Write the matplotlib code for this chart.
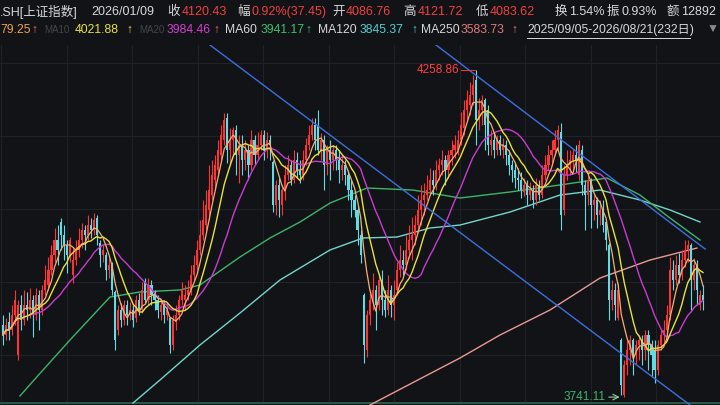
import numpy as np
import pandas as pd
import matplotlib
matplotlib.use("Agg")
import matplotlib.pyplot as plt

plt.rcParams['font.family'] = ['Liberation Sans', 'Noto Sans CJK SC', 'DejaVu Sans']

# daily candles, 2025/09/05 - 2026/08/21 (232 days)
opens = [
    3855.2, 3839.4, 3860.0, 3847.3, 3871.1, 3807.8, 3886.9, 3863.2, 3886.9, 3879.0,
    3894.8, 3871.1, 3902.7, 3879.0, 3910.7, 3918.6, 3942.3, 3966.1, 3989.8, 4018.3,
    3997.7, 3981.9, 3966.1, 3934.4, 3958.1, 3974.0, 3989.8, 4005.6, 3997.7, 4013.5,
    4005.6, 4024.6, 3985.0, 3966.1, 3966.1, 3942.3, 3950.2, 3907.5, 3847.3, 3879.0,
    3863.2, 3886.9, 3871.1, 3879.0, 3866.3, 3894.8, 3879.0, 3923.3, 3894.8, 3918.6,
    3902.7, 3894.8, 3875.8, 3886.9, 3871.1, 3866.3, 3823.6, 3860.0, 3871.1, 3894.8,
    3894.8, 3902.7, 3910.7, 3934.4, 3950.2, 3974.0, 3997.7, 4013.5, 4037.3, 4061.0,
    4084.8, 4100.6, 4124.3, 4148.1, 4182.9, 4132.3, 4148.1, 4163.9, 4124.3, 4140.2,
    4116.4, 4132.3, 4108.5, 4148.1, 4124.3, 4140.2, 4156.0, 4132.3, 4148.1, 4113.3,
    4045.2, 4076.9, 4045.2, 4068.9, 4092.7, 4108.5, 4084.8, 4116.4, 4100.6, 4092.7,
    4116.4, 4140.2, 4156.0, 4171.8, 4171.8, 4132.3, 4148.1, 4108.5, 4132.3, 4116.4,
    4132.3, 4116.4, 4100.6, 4108.5, 4092.7, 4068.9, 4053.1, 4037.3, 3997.7, 3902.7,
    3815.7, 3871.1, 3894.8, 3910.7, 3886.9, 3926.5, 3894.8, 3879.0, 3910.7, 3886.9,
    3910.7, 3942.3, 3958.1, 3950.2, 3974.0, 3989.8, 3997.7, 4013.5, 4037.3, 4053.1,
    4061.0, 4068.9, 4084.8, 4076.9, 4100.6, 4108.5, 4116.4, 4100.6, 4124.3, 4132.3,
    4132.3, 4148.1, 4167.1, 4195.6, 4203.5, 4219.3, 4243.1, 4179.7, 4195.6, 4211.4,
    4195.6, 4140.2, 4148.1, 4132.3, 4148.1, 4132.3, 4140.2, 4124.3, 4108.5, 4100.6,
    4087.9, 4084.8, 4065.8, 4076.9, 4061.0, 4068.9, 4053.1, 4076.9, 4061.0, 4092.7,
    4108.5, 4124.3, 4132.3, 4148.1, 4160.7, 4037.3, 4092.7, 4108.5, 4116.4, 4124.3,
    4092.7, 4132.3, 4076.9, 4061.0, 4084.8, 4045.2, 4053.1, 4029.4, 4037.3, 4018.3,
    3981.9, 3894.8, 3910.7, 3866.3, 3831.5, 3744.4, 3791.9, 3815.7, 3831.5, 3807.8,
    3823.6, 3831.5, 3815.7, 3839.4, 3823.6, 3815.7, 3784.0, 3823.6, 3839.4, 3847.3,
    3871.1, 3942.3, 3926.5, 3950.2, 3934.4, 3958.1, 3974.0, 3981.9, 3926.5, 3950.2,
    3886.9, 3902.7,
]
highs = [
    3871.1, 3866.3, 3875.8, 3886.9, 3910.7, 3894.8, 3902.7, 3910.7, 3907.5, 3913.8,
    3902.7, 3913.8, 3910.7, 3918.6, 3950.2, 3962.9, 3981.9, 4008.8, 4013.5, 4024.6,
    4013.5, 3989.8, 3994.5, 3978.7, 3989.8, 4008.8, 4016.7, 4013.5, 4029.4, 4024.6,
    4032.5, 4029.4, 3989.8, 3981.9, 3970.8, 3961.3, 3955.0, 3910.7, 3886.9, 3890.0,
    3894.8, 3894.8, 3891.6, 3886.9, 3902.7, 3905.9, 3923.3, 3929.6, 3929.6, 3926.5,
    3910.7, 3902.7, 3898.0, 3894.8, 3890.0, 3867.9, 3871.1, 3886.9, 3902.7, 3923.3,
    3918.6, 3926.5, 3950.2, 3966.1, 3989.8, 4021.5, 4053.1, 4068.9, 4108.5, 4116.4,
    4124.3, 4148.1, 4171.8, 4190.8, 4190.8, 4167.1, 4168.7, 4171.8, 4156.0, 4156.0,
    4148.1, 4140.2, 4163.9, 4156.0, 4160.7, 4163.9, 4163.9, 4160.7, 4156.0, 4116.4,
    4084.8, 4087.9, 4076.9, 4108.5, 4124.3, 4116.4, 4132.3, 4129.1, 4116.4, 4132.3,
    4151.2, 4171.8, 4182.9, 4182.9, 4195.6, 4159.1, 4156.0, 4140.2, 4148.1, 4140.2,
    4140.2, 4132.3, 4124.3, 4116.4, 4100.6, 4084.8, 4061.0, 4045.2, 4005.6, 3905.9,
    3879.0, 3910.7, 3937.5, 3918.6, 3934.4, 3942.3, 3910.7, 3934.4, 3918.6, 3926.5,
    3955.0, 3981.9, 3974.0, 3997.7, 4013.5, 4026.2, 4029.4, 4061.0, 4076.9, 4080.0,
    4092.7, 4103.8, 4100.6, 4116.4, 4119.6, 4132.3, 4124.3, 4132.3, 4148.1, 4156.0,
    4163.9, 4192.4, 4211.4, 4227.2, 4239.9, 4251.0, 4258.86, 4214.6, 4219.3, 4214.6,
    4203.5, 4163.9, 4159.1, 4156.0, 4156.0, 4151.2, 4148.1, 4132.3, 4116.4, 4113.3,
    4103.8, 4097.4, 4087.9, 4084.8, 4081.6, 4076.9, 4087.9, 4084.8, 4108.5, 4124.3,
    4140.2, 4148.1, 4163.9, 4171.8, 4175.0, 4108.5, 4132.3, 4132.3, 4135.4, 4140.2,
    4148.1, 4140.2, 4084.8, 4092.7, 4087.9, 4061.0, 4057.9, 4053.1, 4053.1, 4021.5,
    3985.0, 3926.5, 3921.7, 3921.7, 3834.6, 3799.8, 3831.5, 3839.4, 3834.6, 3831.5,
    3839.4, 3839.4, 3847.3, 3847.3, 3831.5, 3831.5, 3831.5, 3847.3, 3863.2, 3886.9,
    3962.9, 3958.1, 3966.1, 3969.2, 3974.0, 3989.8, 3989.8, 3985.0, 3961.3, 3958.1,
    3910.7, 3918.6,
]
lows = [
    3823.6, 3831.5, 3831.5, 3839.4, 3855.2, 3799.8, 3847.3, 3855.2, 3863.2, 3866.3,
    3836.2, 3863.2, 3847.3, 3871.1, 3902.7, 3910.7, 3934.4, 3955.0, 3950.2, 3974.0,
    3958.1, 3937.5, 3955.0, 3921.7, 3950.2, 3962.9, 3977.1, 3974.0, 3989.8, 3992.9,
    3997.7, 3981.9, 3947.0, 3955.0, 3926.5, 3929.6, 3902.7, 3815.7, 3839.4, 3852.1,
    3855.2, 3855.2, 3863.2, 3852.1, 3860.0, 3871.1, 3874.2, 3890.0, 3886.9, 3886.9,
    3879.0, 3866.3, 3863.2, 3858.4, 3863.2, 3810.9, 3815.7, 3847.3, 3863.2, 3886.9,
    3879.0, 3894.8, 3902.7, 3926.5, 3942.3, 3966.1, 3989.8, 4005.6, 4021.5, 4053.1,
    4068.9, 4092.7, 4116.4, 4140.2, 4111.7, 4108.5, 4124.3, 4092.7, 4080.0, 4092.7,
    4100.6, 4084.8, 4100.6, 4108.5, 4116.4, 4132.3, 4116.4, 4119.6, 4116.4, 4034.1,
    4029.4, 4026.2, 4029.4, 4053.1, 4084.8, 4076.9, 4080.0, 4087.9, 4080.0, 4084.8,
    4108.5, 4132.3, 4148.1, 4132.3, 4124.3, 4116.4, 4068.9, 4092.7, 4084.8, 4100.6,
    4100.6, 4080.0, 4084.8, 4076.9, 4053.1, 4026.2, 4026.2, 3981.9, 3953.4, 3795.1,
    3804.6, 3855.2, 3879.0, 3847.3, 3879.0, 3871.1, 3867.9, 3871.1, 3867.9, 3863.2,
    3902.7, 3931.2, 3934.4, 3942.3, 3961.3, 3958.1, 3981.9, 4000.9, 4013.5, 4029.4,
    4053.1, 4061.0, 4061.0, 4068.9, 4084.8, 4092.7, 4076.9, 4087.9, 4108.5, 4119.6,
    4124.3, 4140.2, 4156.0, 4179.7, 4187.7, 4203.5, 4140.2, 4163.9, 4171.8, 4132.3,
    4124.3, 4124.3, 4119.6, 4124.3, 4124.3, 4119.6, 4108.5, 4092.7, 4081.6, 4072.1,
    4068.9, 4056.3, 4059.4, 4045.2, 4053.1, 4040.4, 4045.2, 4053.1, 4056.3, 4084.8,
    4100.6, 4108.5, 4124.3, 4132.3, 4005.6, 4029.4, 4084.8, 4092.7, 4100.6, 4097.4,
    4084.8, 4061.0, 4005.6, 4045.2, 4008.8, 4021.5, 4008.8, 4013.5, 4002.4, 3974.0,
    3863.2, 3879.0, 3863.2, 3863.2, 3744.4, 3741.11, 3776.1, 3791.9, 3776.1, 3791.9,
    3799.8, 3791.9, 3799.8, 3784.0, 3772.9, 3763.4, 3776.1, 3815.7, 3823.6, 3839.4,
    3863.2, 3910.7, 3918.6, 3921.7, 3926.5, 3947.0, 3955.0, 3879.0, 3910.7, 3886.9,
    3879.0, 3879.0,
]
closes = [
    3839.4, 3855.2, 3847.3, 3871.1, 3894.8, 3886.9, 3863.2, 3886.9, 3879.0, 3894.8,
    3871.1, 3902.7, 3879.0, 3910.7, 3926.5, 3942.3, 3966.1, 3989.8, 3974.0, 3997.7,
    3981.9, 3966.1, 3989.8, 3958.1, 3974.0, 3989.8, 4005.6, 3997.7, 4013.5, 4005.6,
    4021.5, 3997.7, 3966.1, 3974.0, 3942.3, 3950.2, 3910.7, 3831.5, 3879.0, 3863.2,
    3886.9, 3871.1, 3879.0, 3863.2, 3894.8, 3879.0, 3910.7, 3894.8, 3918.6, 3902.7,
    3894.8, 3879.0, 3886.9, 3871.1, 3879.0, 3823.6, 3863.2, 3871.1, 3894.8, 3910.7,
    3902.7, 3910.7, 3934.4, 3950.2, 3974.0, 3997.7, 4021.5, 4045.2, 4068.9, 4092.7,
    4108.5, 4132.3, 4156.0, 4179.7, 4132.3, 4148.1, 4163.9, 4124.3, 4140.2, 4116.4,
    4132.3, 4108.5, 4148.1, 4124.3, 4140.2, 4156.0, 4132.3, 4148.1, 4140.2, 4045.2,
    4076.9, 4053.1, 4068.9, 4092.7, 4108.5, 4084.8, 4116.4, 4100.6, 4092.7, 4116.4,
    4140.2, 4156.0, 4171.8, 4148.1, 4132.3, 4148.1, 4108.5, 4132.3, 4116.4, 4132.3,
    4116.4, 4100.6, 4108.5, 4092.7, 4068.9, 4053.1, 4037.3, 4005.6, 3966.1, 3823.6,
    3871.1, 3894.8, 3910.7, 3886.9, 3926.5, 3894.8, 3879.0, 3910.7, 3886.9, 3902.7,
    3942.3, 3958.1, 3950.2, 3974.0, 3989.8, 3997.7, 4013.5, 4037.3, 4053.1, 4061.0,
    4068.9, 4084.8, 4076.9, 4100.6, 4108.5, 4116.4, 4100.6, 4124.3, 4132.3, 4140.2,
    4148.1, 4171.8, 4195.6, 4211.4, 4219.3, 4235.1, 4179.7, 4195.6, 4211.4, 4171.8,
    4140.2, 4148.1, 4132.3, 4148.1, 4132.3, 4140.2, 4124.3, 4108.5, 4100.6, 4087.9,
    4084.8, 4068.9, 4076.9, 4061.0, 4068.9, 4053.1, 4076.9, 4061.0, 4092.7, 4108.5,
    4124.3, 4132.3, 4148.1, 4163.9, 4029.4, 4092.7, 4108.5, 4116.4, 4124.3, 4116.4,
    4140.2, 4076.9, 4061.0, 4084.8, 4045.2, 4053.1, 4029.4, 4037.3, 4013.5, 3989.8,
    3894.8, 3910.7, 3886.9, 3910.7, 3760.3, 3791.9, 3815.7, 3831.5, 3807.8, 3823.6,
    3831.5, 3815.7, 3839.4, 3823.6, 3807.8, 3784.0, 3823.6, 3839.4, 3847.3, 3871.1,
    3942.3, 3926.5, 3950.2, 3934.4, 3958.1, 3974.0, 3981.9, 3926.5, 3950.2, 3910.7,
    3902.7, 3894.8,
]

# long moving averages at a few days (day index, value)
ma60_days = [5.6, 13.2, 22.1, 35.3, 45.2, 58.4, 65.0, 78.2, 88.1, 98.0, 107.9,
             120.1, 135.3, 150.8, 167.3, 183.8, 199.3, 210.2, 220.1, 230.0]
ma60_vals = [3743.0, 3784.0, 3831.5, 3899.5, 3907.5, 3910.7, 3918.6, 3962.9, 3993.0,
             4018.3, 4048.3, 4072.1, 4068.9, 4056.3, 4065.8, 4076.9, 4087.9, 4061.0,
             4024.6, 3989.8]
ma120_days = [42.9, 51.8, 65.0, 78.2, 91.4, 107.9, 118.8, 130.0, 140.9, 150.8,
              167.3, 183.8, 197.0, 210.2, 220.1, 230.0]
ma120_vals = [3731.7, 3768.2, 3823.6, 3874.2, 3926.5, 3974.0, 3993.0, 3994.5, 4008.8,
              4013.5, 4034.1, 4061.0, 4068.9, 4053.1, 4037.3, 4018.3]
ma250_days = [121.1, 143.2, 150.8, 164.0, 180.5, 197.0, 213.5, 229.0]
ma250_vals = [3728.6, 3784.0, 3803.0, 3839.4, 3879.0, 3929.6, 3958.1, 3977.1]

# channel lines (day, price)
channel_a = [(68.3, 4298.5), (226.7, 3728.6)]
channel_b = [(142.9, 4298.5), (231.7, 3975.5)]

high_label = (156, 4258.86)
low_label = (205, 3741.11)

BG = '#121317'
RED = '#ff3333'
CYAN = '#5fdce6'

fig = plt.figure(figsize=(7.2, 4.05), dpi=100, facecolor=BG)
ax = fig.add_axes([0, 0, 1, 360 / 405])
ax.set_facecolor(BG)
ax.set_xlim(-0.99, 236.6)
ax.set_ylim(3728.6, 4298.5)
ax.axis('off')

# faint grid
for k in range(-1, 11):
    ax.axvline(21.1 + 21.6 * k, color='#202228', lw=0.8, zorder=0)
for p in [4270.0, 4154.4, 4038.9, 3923.3, 3807.7]:
    ax.axhline(p, color='#202228', lw=0.8, zorder=0)
ax.axhline(3731.0, color='#2c5a44', lw=1.4, zorder=1)

df = pd.DataFrame({'o': opens, 'h': highs, 'l': lows, 'c': closes})
idx = np.arange(len(df))
up = df.c >= df.o
cols = np.where(up, RED, CYAN)

ax.plot(ma250_days, ma250_vals, color='#e89a94', lw=1.0, zorder=2)
ax.plot(ma120_days, ma120_vals, color='#72d6cc', lw=1.0, zorder=2)
ax.plot(ma60_days, ma60_vals, color='#3bb56a', lw=1.0, zorder=2)

ax.vlines(idx, df.l, df.h, colors=cols, lw=0.8, zorder=3)
body = np.maximum((df.c - df.o).abs(), 1.5)
ax.bar(idx, body, bottom=np.minimum(df.o, df.c), width=0.7, color=cols,
       linewidth=0, zorder=4)

ma5 = df.c.rolling(5, min_periods=1).mean()
ma10 = df.c.rolling(10, min_periods=1).mean()
ma20 = df.c.rolling(20, min_periods=1).mean()
ax.plot(idx, ma20, color='#c83cd0', lw=1.0, zorder=5)
ax.plot(idx, ma10, color='#e8e23c', lw=1.0, zorder=5)
ax.plot(idx, ma5, color='#f4b070', lw=0.9, zorder=5)

for (x0, y0), (x1, y1) in [channel_a, channel_b]:
    ax.plot([x0, x1], [y0, y1], color='#3d6fe0', lw=1.0, zorder=6)

# high / low markers
ax.plot([high_label[0] - 5, high_label[0] - 0.4], [high_label[1]] * 2, color=RED, lw=0.7, zorder=6)
ax.text(high_label[0] - 5.3, high_label[1], '4258.86', color='#ff4040', fontsize=8.5,
        ha='right', va='center', zorder=7)
ax.annotate('', xy=(low_label[0] - 0.6, low_label[1]), xytext=(low_label[0] - 6, low_label[1]),
            arrowprops=dict(arrowstyle='->', color='#8fd0a0', lw=0.8), zorder=7)
ax.text(low_label[0] - 6.3, low_label[1], '3741.11', color='#3cb371', fontsize=8.5,
        ha='right', va='center', zorder=7)

# header
def put(px, py, s, c, size=9, **kw):
    fig.text(px / 720, 1 - py / 405, s, color=c, fontsize=size, va='center', ha='left', **kw)

W = '#d8d8d8'
HR = '#f04040'
r1 = 12
put(0, r1, '.SH[上证指数]', W)
put(91, r1, '2026/01/09', W)
put(167, r1, '收', W)
put(182, r1, '4120.43', HR)
put(237, r1, '幅', W)
put(252, r1, '0.92%(37.45)', HR)
put(332, r1, '开', W)
put(346, r1, '4086.76', HR)
put(403, r1, '高', W)
put(418, r1, '4121.72', HR)
put(476, r1, '低', W)
put(490, r1, '4083.62', HR)
put(555, r1, '换', W)
put(569, r1, '1.54%', W)
put(607, r1, '振', W)
put(621, r1, '0.93%', W)
put(667, r1, '额', W)
put(681, r1, '12892', W)

r2 = 30
s2 = 8.7
put(0, r2, '79.25', '#f0a050', s2)
put(31, r2, '↑', '#f07050', s2)
put(44, r2, 'MA10', '#44454b', 7)
put(75, r2, '4021.88', '#e8e040', s2)
put(126, r2, '↑', '#e8e040', s2)
put(139, r2, 'MA20', '#44454b', 7)
put(167, r2, '3984.46', '#d040d0', s2)
put(213, r2, '↑', '#f06080', s2)
put(225, r2, 'MA60', W, s2)
put(261, r2, '3941.17', '#40c070', s2)
put(305, r2, '↑', '#40c070', s2)
put(318, r2, 'MA120', W, s2)
put(360, r2, '3845.37', '#50d0d0', s2)
put(411, r2, '↑', '#50d0d0', s2)
put(421, r2, 'MA250', W, s2)
put(461, r2, '3583.73', '#e07a7a', s2)
put(511, r2, '↑', '#e07a7a', s2)
put(527, r2, '2025/09/05-2026/08/21(232日)', W, s2)
fig.add_artist(plt.Line2D([527 / 720, 690 / 720], [1 - 37.5 / 405] * 2, color=W, lw=0.7))
put(707, r2, '▼', '#8a8a8a', s2)

fig.savefig('out.png', dpi=100, facecolor=BG)
